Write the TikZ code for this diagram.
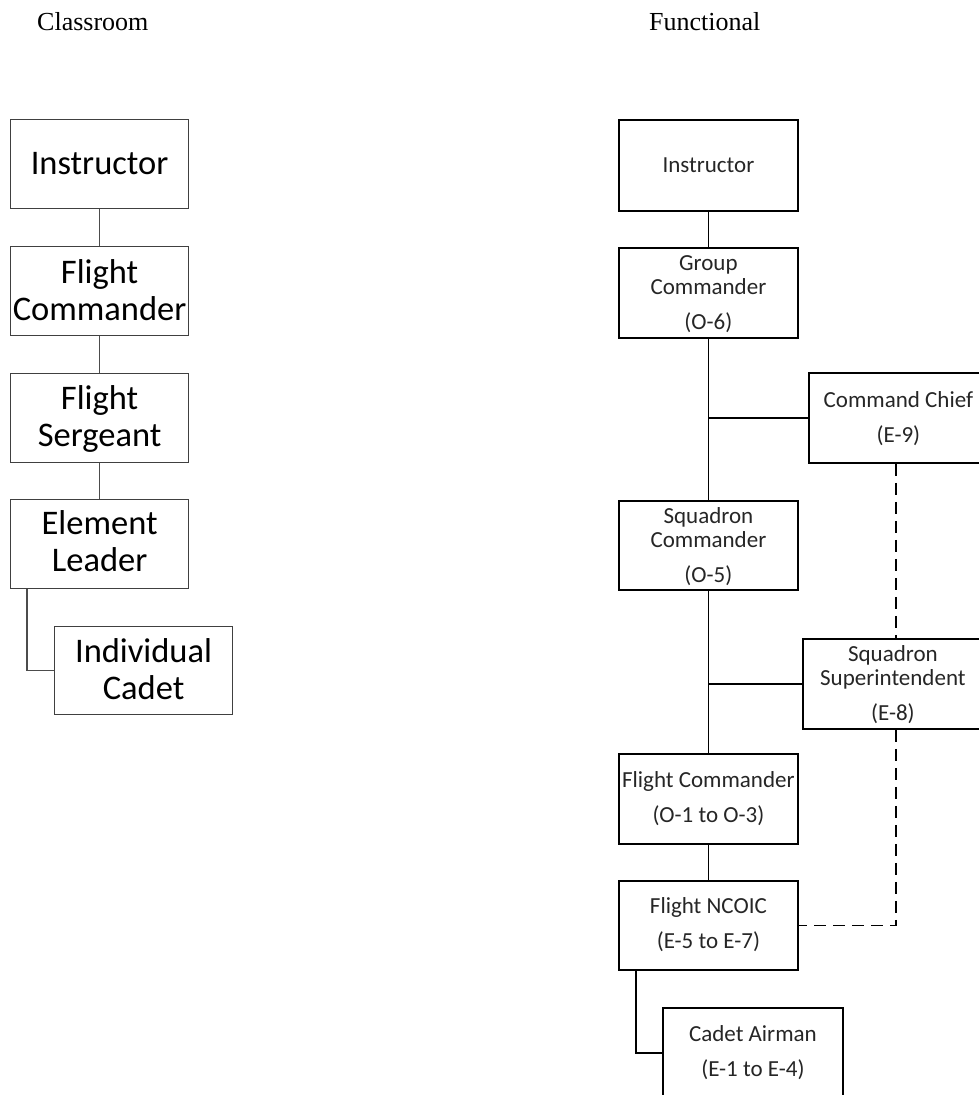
\documentclass[tikz,border=0pt]{standalone}
\usepackage{fontspec}
\setmainfont{Carlito}
\newfontfamily\tnr{Liberation Serif}
\newcommand\bxt[4]{\parbox[t][#2][t]{#1}{\centering\rule{0pt}{#3}#4}}
\begin{document}
\begin{tikzpicture}[x=1pt,y=-1pt,
  lbox/.style={draw=black!75, line width=1.2pt, inner sep=0pt, anchor=north west, font=\fontsize{34.5}{37}\selectfont},
  rbox/.style={draw=black, line width=1.8pt, inner sep=0pt, anchor=north west, text=black!85, font=\fontsize{23}{24}\selectfont},
  lline/.style={draw=black!70, line width=1.2pt},
  rline/.style={draw=black, line width=1.8pt},
  dline/.style={rline, dash pattern=on 12pt off 7pt},
  ttl/.style={anchor=base west, inner sep=0pt, font=\tnr\fontsize{26}{30}\selectfont}]
\useasboundingbox (0,0) rectangle (979,1095);
\clip (0,0) rectangle (979,1095);
\fill[white] (0,0) rectangle (979,1095);

\node[ttl] (t1) at (37,30) {Classroom};
\node[ttl] (t2) at (649,30) {Functional};

% left column
\node[lbox] (li)  at (10,119) {\bxt{178pt}{89pt}{55pt}{Instructor}};
\node[lbox] (lfc) at (10,246) {\bxt{178pt}{89pt}{37pt}{Flight\\Commander}};
\node[lbox] (lfs) at (10,373) {\bxt{178pt}{89pt}{36pt}{Flight\\Sergeant}};
\node[lbox] (lel) at (10,499) {\bxt{178pt}{89pt}{35pt}{Element\\Leader}};
\node[lbox] (lic) at (54,626) {\bxt{178pt}{88pt}{36pt}{Individual\\Cadet}};

\draw[lline] (li.south) -- (lfc.north);
\draw[lline] (lfc.south) -- (lfs.north);
\draw[lline] (lfs.south) -- (lel.north);
\draw[lline] ([xshift=17pt]lel.south west) |- (lic.west);

% right column
\node[rbox] (ri)  at (618,119) {\bxt{179pt}{91pt}{53pt}{Instructor}};
\node[rbox] (rgc) at (618,247) {\bxt{179pt}{90pt}{23pt}{Group\\Commander\\[11pt](O-6)}};
\node[rbox] (rcc) at (808,372) {\bxt{179pt}{90pt}{35pt}{Command Chief\\[11pt](E-9)}};
\node[rbox] (rsc) at (618,500) {\bxt{179pt}{89pt}{22.5pt}{Squadron\\Commander\\[11pt](O-5)}};
\node[rbox] (rss) at (802,638) {\bxt{180pt}{90pt}{22.5pt}{Squadron\\Superintendent\\[11pt](E-8)}};
\node[rbox] (rfc) at (618,753) {\bxt{179pt}{90pt}{34pt}{Flight Commander\\[11pt](O-1 to O-3)}};
\node[rbox] (rnc) at (618,880) {\bxt{179pt}{89pt}{33pt}{Flight NCOIC\\[11pt](E-5 to E-7)}};
\node[rbox] (rca) at (662,1007) {\bxt{180pt}{90pt}{34pt}{Cadet Airman\\[11pt](E-1 to E-4)}};

\draw[rline] (ri.south) -- (rgc.north);
\draw[rline] (rgc.south) -- (rsc.north);
\draw[rline] (rcc.west -| rgc.south) -- (rcc.west);
\draw[rline] (rsc.south) -- (rfc.north);
\draw[rline] (rss.west -| rsc.south) -- (rss.west);
\draw[rline] (rfc.south) -- (rnc.north);
\draw[rline] ([xshift=18pt]rnc.south west) |- (rca.west);

\coordinate (dx) at ([xshift=88pt]rcc.south west);
\draw[dline] (dx) -- (dx |- rss.north);
\draw[dline] (dx |- rss.south) |- (rnc.east);
\end{tikzpicture}
\end{document}
